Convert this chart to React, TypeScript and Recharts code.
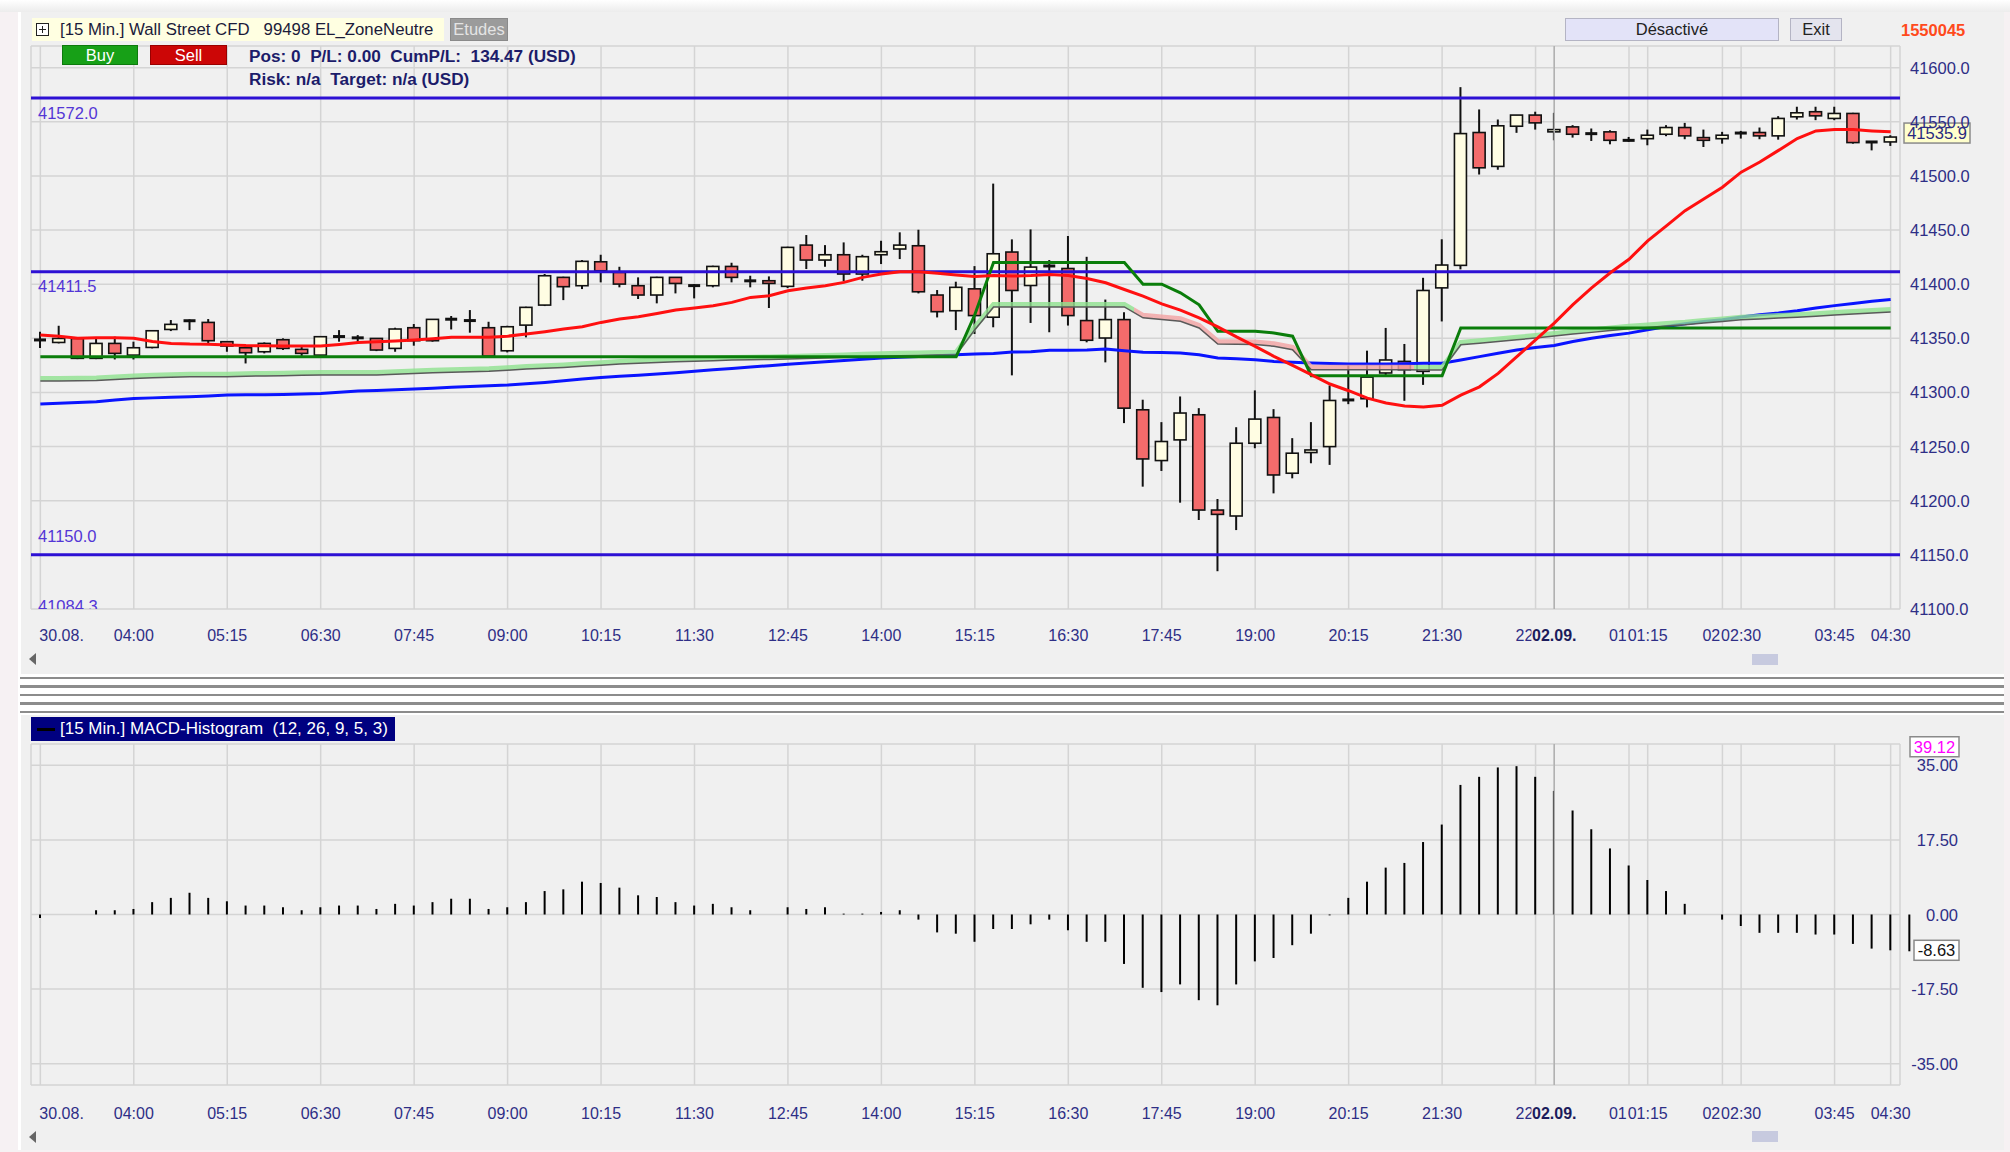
import React from "react";
import {
  ComposedChart,
  Bar,
  Line,
  XAxis,
  YAxis,
  CartesianGrid,
  ReferenceLine,
} from "recharts";

// 15 min candles, 30.08 02:45 -> 02.09 04:30
const opens = [
  41349, 41346.2, 41349.9, 41331.5, 41345.3, 41334.5, 41341.6, 41358.2, 41366, 41364.7,
  41346.9, 41341.3, 41337.6, 41348.7, 41339.8, 41334.5, 41351.5, 41350.6, 41349.9, 41340.7,
  41359.8, 41347.8, 41367.5, 41366.3, 41359.8, 41338.5, 41362.2, 41380.7, 41406.3, 41398.6,
  41420.7, 41410.9, 41398.6, 41390, 41406.3, 41398.6, 41398.6, 41416.4, 41403.2, 41403.2,
  41398, 41436.1, 41422.3, 41427.2, 41409.4, 41427.2, 41432.5, 41435.5, 41390, 41375.5,
  41395.7, 41369.5, 41429.7, 41398.8, 41416.7, 41414.5, 41366.4, 41350.3, 41367.3, 41284,
  41237.1, 41256.2, 41279.4, 41191.4, 41185.9, 41253.1, 41276.9, 41225.4, 41244.5, 41250,
  41293.7, 41294.2, 41318, 41328.7, 41319.5, 41396.6, 41417.4, 41540.1, 41508.8, 41545.9,
  41556.2, 41540.7, 41545.3, 41539.1, 41540.7, 41532.9, 41534.4, 41538.5, 41544.7, 41535.4,
  41534.4, 41539.5, 41540.1, 41537, 41554.6, 41559.3, 41553.1, 41557.7, 41531.4, 41531.4,
];
const highs = [
  41356, 41361.6, 41350.5, 41350, 41351.5, 41346.9, 41357.6, 41366.9, 41367.5, 41367.8,
  41347.5, 41343.8, 41346.2, 41350, 41342.2, 41352.1, 41357.6, 41353, 41350.2, 41359.8,
  41363.2, 41367.8, 41370.6, 41376.1, 41365.3, 41361.6, 41379.2, 41409.4, 41406.9, 41422.3,
  41427.2, 41416.1, 41406.3, 41406.9, 41406.4, 41400.1, 41417.1, 41419.8, 41407.8, 41407.2,
  41434.6, 41445.4, 41436.1, 41438.6, 41427.2, 41440.1, 41447.9, 41450.3, 41394.6, 41402.3,
  41416.7, 41492.9, 41441.4, 41450.6, 41422.3, 41444.5, 41425.3, 41385.8, 41374.1, 41293.3,
  41272.6, 41296.3, 41285.5, 41201.6, 41267.9, 41301.9, 41284.6, 41257.8, 41272.6, 41306.5,
  41325, 41338.6, 41359.6, 41344.8, 41405.9, 41441.5, 41582, 41561.4, 41552.1, 41556.2,
  41559.3, 41558.3, 41546.9, 41543.8, 41542.2, 41536, 41542.8, 41546.9, 41549, 41542.8,
  41540.7, 41541.6, 41544.7, 41555.2, 41563.9, 41563.9, 41563.9, 41558.3, 41531.5, 41537.6,
];
const lows = [
  41341, 41345.3, 41330.8, 41330.8, 41330.5, 41330.5, 41340.7, 41356.7, 41357.6, 41343.8,
  41337.6, 41326.8, 41336.1, 41339.2, 41333, 41333, 41346.9, 41345.3, 41338.2, 41337.6,
  41343.2, 41346.9, 41358.2, 41355.2, 41332.1, 41337, 41350.9, 41379.8, 41385.3, 41395.5,
  41401.7, 41397.1, 41386.3, 41382.3, 41391.5, 41386.9, 41397.1, 41401.7, 41397.1, 41378,
  41396.4, 41414, 41416.1, 41402.6, 41403.2, 41418.6, 41423.2, 41391.5, 41369.3, 41357.6,
  41354, 41360.2, 41315.8, 41364.2, 41355.6, 41361.8, 41346.3, 41327.8, 41271.7, 41213,
  41227.5, 41198.2, 41182.2, 41134.9, 41172.9, 41248.5, 41206.8, 41220.7, 41234.6, 41233.1,
  41289.2, 41286.2, 41314.9, 41292.3, 41307, 41365.6, 41413.7, 41501.3, 41505.7, 41539.8,
  41542.8, 41532.9, 41535.4, 41532.3, 41529.2, 41531.4, 41528.3, 41536.7, 41533.9, 41526.7,
  41529.8, 41534.5, 41533.9, 41533.5, 41552.1, 41551.5, 41551.5, 41529.8, 41523.6, 41527.7,
];
const closes = [
  41348, 41349.9, 41331.5, 41345.3, 41336.1, 41341.3, 41357, 41362.9, 41366.5, 41347.8,
  41342.9, 41336.7, 41345.3, 41340.7, 41336.1, 41351.5, 41351.8, 41350.3, 41339.2, 41358.6,
  41347.8, 41367.5, 41367.8, 41366.5, 41333.5, 41360.7, 41378.6, 41407.8, 41397.7, 41421.1,
  41412.4, 41400.1, 41390, 41406.3, 41400.7, 41398.8, 41416.4, 41406.3, 41403, 41400.7,
  41434, 41422.3, 41427.2, 41409.4, 41425.4, 41430, 41436.1, 41393, 41374.6, 41397.1,
  41371, 41428.1, 41394.2, 41415.8, 41416.9, 41371, 41348.2, 41367.3, 41285.5, 41238.6,
  41254.7, 41281, 41191.4, 41187.4, 41253.1, 41275.4, 41223.8, 41243.9, 41246.9, 41292.6,
  41292.5, 41314.2, 41330, 41321, 41394.2, 41417.7, 41539.1, 41507.5, 41546.3, 41556.2,
  41549, 41542.8, 41538.5, 41539, 41532.9, 41532.8, 41537.6, 41544.7, 41537, 41532.9,
  41537.6, 41539.7, 41537, 41553.1, 41558.3, 41555.5, 41557.7, 41530.8, 41531.3, 41535.9,
];

const emaRed = [
  41353, 41352, 41350, 41350.5, 41350.5, 41350, 41347, 41345.3, 41344.7, 41344.5,
  41343.8, 41343.3, 41343.2, 41343, 41343, 41342.9, 41344.4, 41346.2, 41346.9, 41347.5,
  41348.4, 41349.5, 41350.9, 41351, 41351, 41352, 41353.9, 41356.1, 41358.6, 41360.7,
  41364.7, 41367.8, 41370, 41373, 41376.1, 41378, 41380.1, 41383.2, 41387.8, 41389.3,
  41394, 41396.4, 41398.6, 41401.7, 41406.3, 41409.4, 41411.5, 41411.5, 41410, 41408.5,
  41407, 41408, 41407.5, 41408, 41409, 41408, 41405.3, 41401.3, 41395.1, 41388.9,
  41381.8, 41376, 41368.9, 41360.5, 41351.3, 41342.6, 41333.4, 41325, 41316.4, 41307.8,
  41301.6, 41294.8, 41290.2, 41287.5, 41286.6, 41288.2, 41297.5, 41305.2, 41317.6, 41333.1,
  41348.6, 41364.1, 41381.1, 41396.6, 41410.6, 41423, 41440, 41453.9, 41467.9, 41478.7,
  41489.6, 41503.5, 41512.8, 41523.6, 41534.5, 41541.6, 41542.8, 41542.8, 41541.6, 41540.7,
];
const smaBlue = [
  41289.3, 41290, 41290.7, 41291.4, 41293, 41294.5, 41295, 41295.6, 41296.1, 41296.8,
  41297.6, 41297.8, 41298, 41298.2, 41298.6, 41299.1, 41300.2, 41301.3, 41301.9, 41302.5,
  41303.1, 41303.9, 41304.8, 41305.6, 41306.2, 41306.8, 41308, 41309.3, 41310.8, 41312.4,
  41313.9, 41314.9, 41316, 41317, 41318.3, 41319.6, 41321, 41322.2, 41323.5, 41324.7,
  41326, 41327.2, 41328.4, 41329.5, 41330.7, 41331.8, 41332.5, 41333.2, 41333.9, 41334.9,
  41335.5, 41336, 41337.4, 41337.6, 41338.9, 41339, 41339.2, 41340.2, 41338.6, 41337.1,
  41336.8, 41336.5, 41334.8, 41331.8, 41331.2, 41330.3, 41328.7, 41328, 41327.2, 41326.7,
  41326.3, 41326.3, 41326.3, 41326.6, 41326.9, 41326.9, 41330, 41333.1, 41336.2, 41339.3,
  41341.5, 41343.3, 41347.1, 41350.1, 41352.6, 41354.8, 41357.9, 41361, 41363.5, 41365.6,
  41367.2, 41369.7, 41371.8, 41373.4, 41375.5, 41378, 41380.2, 41382.1, 41384.2, 41385.8,
];
const bandGray = [
  41310.5, 41310.6, 41310.8, 41311, 41312, 41313, 41313.5, 41314, 41314.5, 41314.5,
  41314.6, 41315, 41315.3, 41315.5, 41315.8, 41316.1, 41316.1, 41316.1, 41316.2, 41316.9,
  41317.6, 41318.1, 41318.6, 41319.1, 41319.6, 41320.5, 41321.6, 41322.3, 41323.1, 41324.1,
  41325.2, 41326.2, 41326.9, 41327.7, 41328.4, 41328.9, 41329.4, 41329.9, 41330.2, 41330.5,
  41330.8, 41331.3, 41331.9, 41332.4, 41332.9, 41333.4, 41333.9, 41334.2, 41334.5, 41334.8,
  41358, 41379, 41379, 41379, 41379, 41379, 41379, 41379, 41379, 41368.9,
  41367.3, 41365.8, 41359.6, 41344.8, 41344.5, 41344.2, 41342.7, 41339.5, 41321, 41321,
  41321, 41321, 41321, 41321, 41320.7, 41320.7, 41344, 41345.5, 41347, 41348.6,
  41350.4, 41352.2, 41353.9, 41355.5, 41357.2, 41358.8, 41360, 41361.3, 41362.5, 41364.1,
  41365.6, 41367.2, 41367.9, 41368.7, 41369.4, 41370.4, 41371.5, 41372.5, 41373.4, 41374.3,
];
const trailGreen = [
  41333, 41333, 41333, 41333, 41333, 41333, 41333, 41333, 41333, 41333,
  41333, 41333, 41333, 41333, 41333, 41333, 41333, 41333, 41333, 41333,
  41333, 41333, 41333, 41333, 41333, 41333, 41333, 41333, 41333, 41333,
  41333, 41333, 41333, 41333, 41333, 41333, 41333, 41333, 41333, 41333,
  41333, 41333, 41333, 41333, 41333, 41333, 41333, 41333, 41333, 41333,
  41372, 41420, 41420, 41420, 41420, 41420, 41420, 41420, 41420, 41400,
  41400, 41392, 41381, 41356.5, 41356.5, 41356.5, 41355, 41352, 41315.5, 41315.5,
  41315.5, 41315.5, 41315.5, 41315.5, 41315.5, 41315.5, 41359.5, 41359.5, 41359.5, 41359.5,
  41359.5, 41359.5, 41359.5, 41359.5, 41359.5, 41359.5, 41359.5, 41359.5, 41359.5, 41359.5,
  41359.5, 41359.5, 41359.5, 41359.5, 41359.5, 41359.5, 41359.5, 41359.5, 41359.5, 41359.5,
];
// band turns pink between these candles
const pinkFrom = 58.5;
const pinkTo = 73.5;

const macdHist = [
  -0.8, 0, 0, 1.0, 1.0, 1.3, 2.9, 3.9, 5.1, 3.9,
  3.1, 2.1, 2.1, 1.7, 1.0, 1.7, 2.1, 2.1, 1.3, 2.5,
  2.1, 2.9, 3.7, 3.7, 1.3, 1.7, 2.9, 5.5, 5.9, 7.7,
  7.4, 6.3, 4.5, 4.1, 2.9, 2.1, 2.5, 1.7, 1.0, 0,
  1.7, 1.3, 1.7, 0.2, 0.2, 0.6, 1.0, -1.2, -4.2, -4.5,
  -6.4, -3.4, -3.4, -2.3, -1.2, -3.7, -6.4, -6.4, -11.6, -17.2,
  -18.2, -16.4, -20.1, -21.3, -16.4, -11.0, -10.2, -7.2, -4.5, -0.2,
  3.9, 7.7, 11.0, 12.1, 17.0, 21.1, 30.4, 32.3, 34.5, 34.8,
  32.3, 29.0, 24.4, 20.0, 15.5, 11.5, 8.1, 5.5, 2.5, 0,
  -1.2, -2.7, -4.3, -4.3, -4.3, -4.7, -4.7, -6.9, -8.0, -8.4,
  -8.63,
];

const tickIdx = [0, 5, 10, 15, 20, 25, 30, 35, 40, 45, 50, 55, 60, 65, 70, 75, 80, 81, 85, 86, 90, 91, 96, 99];
const tickText = [
  "30.08.", "04:00", "05:15", "06:30", "07:45", "09:00", "10:15", "11:30", "12:45", "14:00",
  "15:15", "16:30", "17:45", "19:00", "20:15", "21:30", "22:45", "02.09.", "01:00", "01:15",
  "02:00", "02:30", "03:45", "04:30",
];
const dayBreak = 81;

const priceTicks = [41100, 41150, 41200, 41250, 41300, 41350, 41400, 41450, 41500, 41550, 41600];
const levels = [41572.0, 41411.5, 41150.0];
const levelOffsets = [21, 20, -13];
const lowLevel = 41084.3;
const lastPrice = 41535.9;
const macdTicks = [-35, -17.5, 0, 17.5, 35];
const macdMax = 39.12;
const macdLast = -8.63;

const FONT = "'Liberation Sans', Arial, sans-serif";
const BG = "#f0f0f0";
const AXIS_TXT = "#2e2e86";
const LEVEL = "#2d10d4";

const N = opens.length;
const candles = opens.map((o, i) => ({
  i,
  open: o,
  high: highs[i],
  low: lows[i],
  close: closes[i],
  ema: emaRed[i],
  sma: smaBlue[i],
  band: bandGray[i],
  trail: trailGreen[i],
}));
const macdData = macdHist.slice(0, N).map((h, i) => ({ i, h }));

const Candle = (p: any) => {
  const { x, y, width, height, payload } = p;
  if (!payload) return null;
  const top = Math.min(y, y + height);
  const bot = Math.max(y, y + height);
  const k = (bot - top) / (payload.high - payload.low);
  const yo = top + (payload.high - payload.open) * k;
  const yc = top + (payload.high - payload.close) * k;
  const b0 = Math.min(yo, yc);
  const b1 = Math.max(yo, yc);
  const cx = x + width / 2;
  const bull = payload.close >= payload.open;
  return (
    <g>
      <line x1={cx} x2={cx} y1={top} y2={bot} stroke="#111" strokeWidth={2} />
      {b1 - b0 < 2 ? (
        <line x1={cx - 6} x2={cx + 6} y1={(b0 + b1) / 2} y2={(b0 + b1) / 2} stroke="#111" strokeWidth={3} />
      ) : (
        <rect x={cx - 6} y={b0} width={12} height={b1 - b0} fill={bull ? "#fffde3" : "#f46b6b"} stroke="#111" strokeWidth={1.6} />
      )}
    </g>
  );
};

const TimeTick = (p: any) => {
  const { x, y, payload, shift } = p;
  const k = tickIdx.indexOf(payload.value);
  const text = tickText[k] ?? "";
  const bold = text === "02.09.";
  const first = k === 0;
  const w = text.length * (bold ? 7.6 : 8.1);
  return (
    <g>
      {!first && <rect x={x - w / 2} y={y + shift - 10} width={w} height={20} fill={BG} />}
      <text
        x={first ? x - 1 : x}
        y={y + shift}
        textAnchor={first ? "start" : "middle"}
        dominantBaseline="central"
        fontFamily={FONT}
        fontSize={16}
        fontWeight={bold ? "bold" : "normal"}
        fill={bold ? "#1c1c5c" : AXIS_TXT}
      >
        {text}
      </text>
    </g>
  );
};

const PriceTick = (p: any) => (
  <text x={p.x + 10} y={p.y} dominantBaseline="central" fontFamily={FONT} fontSize={16.5} fill={AXIS_TXT}>
    {Number(p.payload.value).toFixed(1)}
  </text>
);

const MacdTick = (p: any) => (
  <text x={p.x + 58} y={p.y} textAnchor="end" dominantBaseline="central" fontFamily={FONT} fontSize={16.5} fill={AXIS_TXT}>
    {Number(p.payload.value).toFixed(2)}
  </text>
);

const LevelLabel = (p: any) => (
  <text x={p.viewBox.x + 7} y={p.viewBox.y + p.dy} fontFamily={FONT} fontSize={16.5} fill="#5336d6">
    {p.text}
  </text>
);

// label of a level sitting just below the visible range, cut by the plot edge
const CutLabel = (p: any) => (
  <svg x={p.viewBox.x} y={p.viewBox.y - 30} width={120} height={13} overflow="hidden">
    <text x={7} y={16} fontFamily={FONT} fontSize={16.5} fill="#5336d6">
      {p.text}
    </text>
  </svg>
);

const ValueBox = (p: any) => {
  const bx = p.viewBox.x + p.viewBox.width + p.gap;
  return (
    <g>
      <rect x={bx} y={p.viewBox.y - p.up} width={p.w} height={20} fill={p.bg} stroke="#8a8a8a" strokeWidth={1.5} />
      <text x={bx + p.w / 2} y={p.viewBox.y - p.up + 10} textAnchor="middle" dominantBaseline="central" fontFamily={FONT} fontSize={16.5} fill={p.color}>
        {p.text}
      </text>
    </g>
  );
};

const Btn = ({ left, top, w, h, bg, color, text, border }: any) => (
  <div
    style={{
      position: "absolute",
      left,
      top,
      width: w,
      height: h,
      background: bg,
      color,
      border,
      boxSizing: "border-box",
      fontSize: 16.5,
      lineHeight: `${h - 2}px`,
      textAlign: "center",
    }}
  >
    {text}
  </div>
);

const xAxisProps = {
  dataKey: "i",
  type: "number" as const,
  domain: [-0.5, N - 0.5],
  allowDataOverflow: true,
  ticks: tickIdx,
  interval: 0 as const,
  tickLine: false,
  axisLine: false,
  tickSize: 0,
  tickMargin: 0,
  height: 40,
};

export default function App() {
  const gFrom = pinkFrom / (N - 1);
  const gTo = pinkTo / (N - 1);
  return (
    <div style={{ position: "absolute", left: 0, top: 0, width: 2010, height: 1152, background: "#f6f1f3", fontFamily: FONT, overflow: "hidden" }}>
      <style>{`.bandGlow { transform: translateY(-2.5px); }`}</style>
      <div style={{ position: "absolute", left: 0, top: 0, width: 2010, height: 12, background: "linear-gradient(#ffffff, #ececec)" }} />
      <div style={{ position: "absolute", left: 18, top: 12, width: 1986, height: 1138, background: BG, borderLeft: "3px solid #ffffff", boxSizing: "border-box" }} />

      {/* price panel */}
      <div style={{ position: "absolute", left: 0, top: 0 }}>
        <ComposedChart width={2010} height={700} data={candles} margin={{ top: 46, right: 30, bottom: 51, left: 31 }}>
          <defs>
            <linearGradient id="bandTone" x1="0" y1="0" x2="1" y2="0">
              <stop offset={0} stopColor="#8fe28f" />
              <stop offset={gFrom} stopColor="#8fe28f" />
              <stop offset={gFrom} stopColor="#f2a2a2" />
              <stop offset={gTo} stopColor="#f2a2a2" />
              <stop offset={gTo} stopColor="#8fe28f" />
              <stop offset={1} stopColor="#8fe28f" />
            </linearGradient>
          </defs>
          <CartesianGrid stroke="#d4d4d4" strokeWidth={1.5} />
          <XAxis {...xAxisProps} tick={(p: any) => <TimeTick {...p} shift={26} />} />
          <YAxis
            orientation="right"
            domain={[41100, 41620]}
            allowDataOverflow
            ticks={priceTicks}
            interval={0}
            tick={(p: any) => <PriceTick {...p} />}
            axisLine={false}
            tickLine={false}
            tickSize={0}
            tickMargin={0}
            width={80}
          />
          <ReferenceLine x={dayBreak} stroke="#b0b0b0" strokeWidth={1.5} />
          {levels.map((v, k) => (
            <ReferenceLine
              key={v}
              y={v}
              stroke={LEVEL}
              strokeWidth={3}
              label={(p: any) => <LevelLabel {...p} text={v.toFixed(1)} dy={levelOffsets[k]} />}
            />
          ))}
          <ReferenceLine y={lowLevel} stroke="none" ifOverflow="visible" label={(p: any) => <CutLabel {...p} text={lowLevel.toFixed(1)} />} />
          <Line dataKey="sma" type="linear" stroke="#0a14ff" strokeWidth={3} dot={false} activeDot={false} isAnimationActive={false} />
          <Line dataKey="band" type="linear" stroke="url(#bandTone)" strokeWidth={5} strokeOpacity={0.8} className="bandGlow" dot={false} activeDot={false} isAnimationActive={false} />
          <Line dataKey="band" type="linear" stroke="#5a5a5a" strokeWidth={1.5} dot={false} activeDot={false} isAnimationActive={false} />
          <Line dataKey="trail" type="linear" stroke="#0a7d0a" strokeWidth={3} dot={false} activeDot={false} isAnimationActive={false} />
          <Line dataKey="ema" type="linear" stroke="#ff1010" strokeWidth={3} dot={false} activeDot={false} isAnimationActive={false} />
          <Bar dataKey={(d: any) => [d.low, d.high]} barSize={12} shape={(p: any) => <Candle {...p} />} isAnimationActive={false} />
          <ReferenceLine
            y={lastPrice}
            stroke="none"
            label={(p: any) => <ValueBox {...p} text={lastPrice.toFixed(1)} gap={4} up={14} w={66} bg="#ffffcc" color="#2a2a80" />}
          />
        </ComposedChart>
      </div>

      {/* header of price panel */}
      <div style={{ position: "absolute", left: 32, top: 18, width: 412, height: 23, background: "#ffffe1", fontSize: 16.8, lineHeight: "23px", color: "#1b1b3a", whiteSpace: "pre" }}>
        <span style={{ position: "absolute", left: 4, top: 5, width: 11, height: 11, border: "1px solid #222", background: "#fff", boxSizing: "content-box" }}>
          <span style={{ position: "absolute", left: 2, top: 5, width: 7, height: 1, background: "#222" }} />
          <span style={{ position: "absolute", left: 5, top: 2, width: 1, height: 7, background: "#222" }} />
        </span>
        <span style={{ position: "absolute", left: 28 }}>[15 Min.] Wall Street CFD   99498 EL_ZoneNeutre</span>
      </div>
      <Btn left={450} top={18} w={58} h={23} bg="#9b9b9b" color="#e4e4e4" text="Etudes" border="1px solid #8a8a8a" />
      <Btn left={62} top={45} w={76} h={20} bg="#17a017" color="#ffffff" text="Buy" border="1px solid #0d7a0d" />
      <Btn left={150} top={45} w={77} h={20} bg="#cc0606" color="#ffffff" text="Sell" border="1px solid #990000" />
      <div style={{ position: "absolute", left: 249, top: 46, fontSize: 17.2, fontWeight: "bold", color: "#1c1c6a", whiteSpace: "pre", lineHeight: "20px" }}>
        Pos: 0  P/L: 0.00  CumP/L:  134.47 (USD)
      </div>
      <div style={{ position: "absolute", left: 249, top: 69, fontSize: 17.2, fontWeight: "bold", color: "#1c1c6a", whiteSpace: "pre", lineHeight: "20px" }}>
        Risk: n/a  Target: n/a (USD)
      </div>
      <Btn left={1565} top={18} w={214} h={23} bg="#e3e3f8" color="#222" text="Désactivé" border="1px solid #b4b4c4" />
      <Btn left={1790} top={18} w={52} h={23} bg="#e4e4ee" color="#222" text="Exit" border="1px solid #b4b4c4" />
      <div style={{ position: "absolute", left: 1901, top: 20, fontSize: 16.5, fontWeight: "bold", color: "#ff4a1c", lineHeight: "20px" }}>1550045</div>

      {/* scroll bar of price panel */}
      <div style={{ position: "absolute", left: 29, top: 653, width: 0, height: 0, borderTop: "6px solid transparent", borderBottom: "6px solid transparent", borderRight: "7px solid #666" }} />
      <div style={{ position: "absolute", left: 1752, top: 654, width: 26, height: 11, background: "#c7cadf" }} />

      {/* splitter */}
      <div
        style={{
          position: "absolute",
          left: 20,
          top: 674,
          width: 1984,
          height: 41,
          background: "repeating-linear-gradient(#ffffff 0px, #ffffff 3px, #8c8c8c 3px, #8c8c8c 5.5px, #ffffff 5.5px, #ffffff 8.5px)",
        }}
      />

      {/* MACD panel */}
      <div style={{ position: "absolute", left: 0, top: 690 }}>
        <ComposedChart width={2010} height={460} data={macdData} margin={{ top: 54, right: 30, bottom: 25, left: 31 }}>
          <CartesianGrid stroke="#d4d4d4" strokeWidth={1.5} />
          <XAxis {...xAxisProps} tick={(p: any) => <TimeTick {...p} shift={28} />} />
          <YAxis
            orientation="right"
            domain={[-40, 40]}
            allowDataOverflow
            ticks={macdTicks}
            interval={0}
            tick={(p: any) => <MacdTick {...p} />}
            axisLine={false}
            tickLine={false}
            tickSize={0}
            tickMargin={0}
            width={80}
          />
          <ReferenceLine x={dayBreak} stroke="#b0b0b0" strokeWidth={1.5} />
          <Bar dataKey="h" barSize={2} fill="#000000" isAnimationActive={false} />
          <ReferenceLine
            segment={[
              { x: N, y: 0 },
              { x: N, y: macdHist[N] },
            ]}
            ifOverflow="visible"
            stroke="#000000"
            strokeWidth={2}
          />
          <ReferenceLine
            y={macdMax}
            stroke="none"
            label={(p: any) => <ValueBox {...p} text={macdMax.toFixed(2)} gap={10} up={11} w={49} bg="#ffffff" color="#ff00ff" />}
          />
          <ReferenceLine
            y={macdLast}
            stroke="none"
            label={(p: any) => <ValueBox {...p} text={macdLast.toFixed(2)} gap={14} up={11} w={45} bg="#ffffff" color="#111111" />}
          />
        </ComposedChart>
      </div>

      <div style={{ position: "absolute", left: 31, top: 717, width: 364, height: 24, background: "#000080", color: "#ffffff", fontSize: 17, lineHeight: "24px", whiteSpace: "pre" }}>
        <span style={{ position: "absolute", left: 6, top: 11, width: 18, height: 3, background: "#000" }} />
        <span style={{ position: "absolute", left: 29 }}>[15 Min.] MACD-Histogram  (12, 26, 9, 5, 3)</span>
      </div>

      <div style={{ position: "absolute", left: 29, top: 1131, width: 0, height: 0, borderTop: "6px solid transparent", borderBottom: "6px solid transparent", borderRight: "7px solid #666" }} />
      <div style={{ position: "absolute", left: 1752, top: 1131, width: 26, height: 11, background: "#c7cadf" }} />
    </div>
  );
}
